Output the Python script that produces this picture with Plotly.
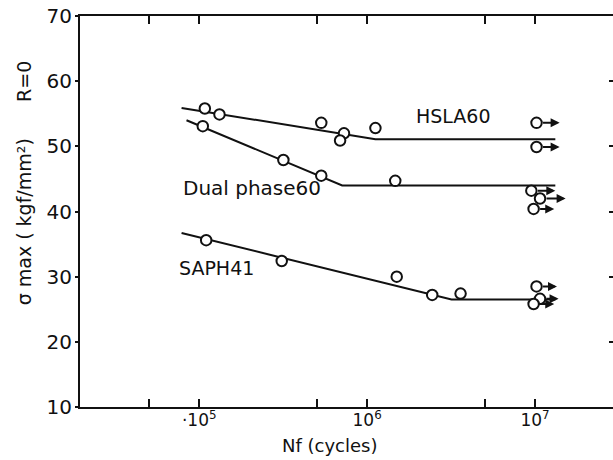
import math
import plotly.graph_objects as go

# ---------------- data ----------------
# fitted S-N lines (cycles, stress kgf/mm2)
hsla_line_n = [7.85e4, 1.12e6, 1.32e7]
hsla_line_s = [55.9, 51.1, 51.1]
dual_line_n = [8.4e4, 7.1e5, 1.32e7]
dual_line_s = [54.0, 44.0, 44.0]
saph_line_n = [7.85e4, 3.18e6, 1.32e7]
saph_line_s = [36.7, 26.5, 26.5]

# fatigue test points (failed)
hsla_n = [1.08e5, 1.32e5, 5.33e5, 7.28e5, 6.9e5, 1.12e6]
hsla_s = [55.8, 54.9, 53.6, 52.0, 50.9, 52.8]
dual_n = [1.05e5, 3.17e5, 5.33e5, 1.47e6]
dual_s = [53.1, 47.9, 45.5, 44.7]
saph_n = [1.1e5, 3.1e5, 1.5e6, 2.44e6, 3.6e6]
saph_s = [35.6, 32.4, 30.0, 27.2, 27.4]

# run-outs (unbroken) with arrow end
runout_n = [1.02e7, 1.02e7, 9.5e6, 1.07e7, 9.8e6, 1.02e7, 1.07e7, 9.8e6]
runout_s = [53.6, 49.9, 43.2, 42.0, 40.4, 28.5, 26.6, 25.8]
runout_end_n = [1.40e7, 1.40e7, 1.32e7, 1.52e7, 1.30e7, 1.35e7, 1.38e7, 1.30e7]

# curve labels
label_text = ["HSLA60", "Dual phase60", "SAPH41"]
label_n = [3.25e6, 2.05e5, 1.27e5]
label_s = [54.6, 43.6, 31.4]

x_tickvals = [1e5, 1e6, 1e7]
x_ticktext = ["·10<sup>5</sup>", "10<sup>6</sup>", "10<sup>7</sup>"]
x_minor = [5e4, 5e5, 5e6]
y_tickvals = [10, 20, 30, 40, 50, 60, 70]

FONT = "DejaVu Sans"
BLACK = "#111111"

fig = go.Figure()

for ln, ls in [(hsla_line_n, hsla_line_s), (dual_line_n, dual_line_s), (saph_line_n, saph_line_s)]:
    fig.add_trace(go.Scatter(x=ln, y=ls, mode="lines",
                             line=dict(color=BLACK, width=2), hoverinfo="skip",
                             showlegend=False))

all_n = hsla_n + dual_n + saph_n + runout_n
all_s = hsla_s + dual_s + saph_s + runout_s
fig.add_trace(go.Scatter(x=all_n, y=all_s, mode="markers",
                         marker=dict(symbol="circle", size=10.5, color="white",
                                     line=dict(color=BLACK, width=2)),
                         showlegend=False))

# invisible trace for the right-hand tick axis
fig.add_trace(go.Scatter(x=[1e5], y=[40], yaxis="y2", mode="markers",
                         marker=dict(opacity=0), showlegend=False, hoverinfo="skip"))

annotations = []
for n0, s0, n1 in zip(runout_n, runout_s, runout_end_n):
    annotations.append(dict(x=math.log10(n1), y=s0, ax=math.log10(n0), ay=s0,
                            xref="x", yref="y", axref="x", ayref="y",
                            showarrow=True, arrowhead=2, arrowsize=0.9,
                            arrowwidth=2, arrowcolor=BLACK, startstandoff=5,
                            text=""))
label_sizes = [19, 20, 19]
for t, n, s, fs in zip(label_text, label_n, label_s, label_sizes):
    annotations.append(dict(x=math.log10(n), y=s, xref="x", yref="y", text=t,
                            showarrow=False, xanchor="center", yanchor="middle",
                            font=dict(family=FONT, size=fs, color=BLACK)))

annotations.append(dict(x=0, y=0.572, xref="paper", yref="paper", xshift=-56,
                        text="σ max ( kgf/mm²)      R=0", textangle=-90,
                        showarrow=False, xanchor="center", yanchor="middle",
                        font=dict(family=FONT, size=19, color=BLACK)))
annotations.append(dict(x=0.469, y=0, xref="paper", yref="paper", yshift=-38,
                        text="Nf (cycles)", showarrow=False,
                        xanchor="center", yanchor="middle",
                        font=dict(family=FONT, size=18, color=BLACK)))

fig.update_layout(
    width=613, height=460,
    margin=dict(l=80, r=0, t=16, b=53),
    paper_bgcolor="white", plot_bgcolor="white",
    font=dict(family=FONT, color=BLACK),
    annotations=annotations,
    xaxis=dict(type="log", range=[4.290, 7.464],
               tickvals=x_tickvals, ticktext=x_ticktext,
               ticks="inside", ticklen=8, tickwidth=2, tickcolor=BLACK,
               ticklabelstandoff=-3,
               minor=dict(tickvals=x_minor, ticks="inside", ticklen=5,
                          tickwidth=2, tickcolor=BLACK, showgrid=False),
               showline=True, linewidth=2, linecolor=BLACK, mirror="allticks",
               showgrid=False, zeroline=False,
               tickfont=dict(family=FONT, size=17, color=BLACK)),
    yaxis=dict(range=[10, 70], tickvals=y_tickvals,
               ticks="outside", ticklen=3, tickwidth=2, tickcolor=BLACK,
               ticklabelstandoff=-1,
               showline=True, linewidth=2, linecolor=BLACK,
               showgrid=False, zeroline=False,
               tickfont=dict(family=FONT, size=20, color=BLACK)),
    yaxis2=dict(range=[10, 70], overlaying="y", side="right", anchor="x",
                tickvals=[20, 30, 40, 50, 60], ticks="inside", ticklen=4,
                tickwidth=2, tickcolor=BLACK, showticklabels=False,
                showline=False, showgrid=False, zeroline=False),
)

fig.write_html("out.html")
